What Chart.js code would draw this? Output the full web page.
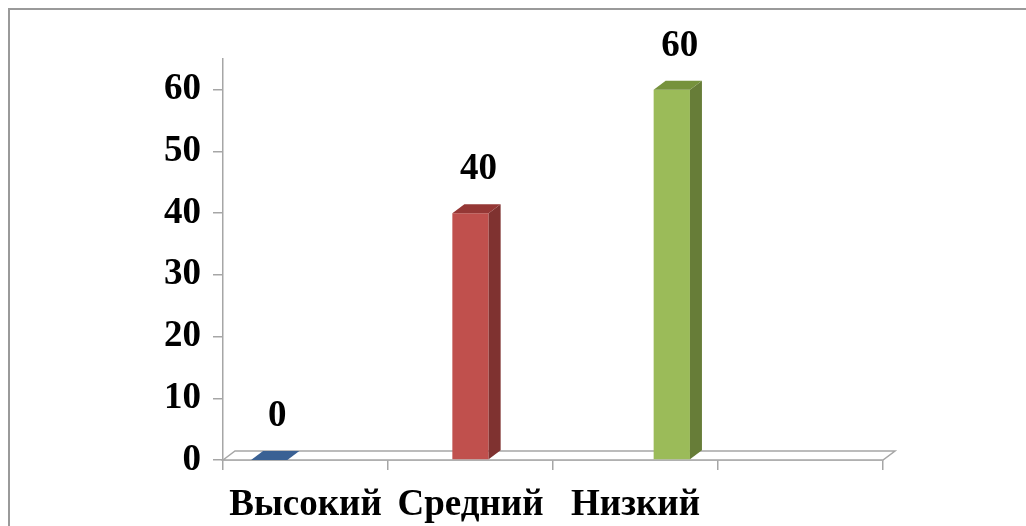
<!DOCTYPE html>
<html>
<head>
<meta charset="utf-8">
<script src="https://cdn.jsdelivr.net/npm/chart.js@4"></script>
<style>
    body { margin: 0; background: #fff; }
    canvas { display: block; }
</style>
</head>
<body>
<canvas id="grafica" width="1026" height="526"></canvas>
<script>
// Dades
const categories = ['Высокий', 'Средний', 'Низкий', ''];
const levelValues = [0, 40, 60];
const yTicks = [0, 10, 20, 30, 40, 50, 60];

const frontColors = ['#4F81BD', '#C0504D', '#9BBB59'];
const sideColors = ['#2F4D71', '#7F3230', '#677D38'];
const topColors = ['#3A6194', '#953735', '#76923C'];

const DX = 12, DY = 9; // profunditat 3D
const FONT = 'bold 37px "Liberation Serif", "Times New Roman", serif';

// cada nivell és una sèrie amb valor només a la seva categoria
const datasets = levelValues.map(function (v, i) {
    return {
        data: categories.map(function (c, j) { return j === i ? v : null; }),
        backgroundColor: frontColors[i],
        borderWidth: 0,
        barPercentage: 1.0,
        categoryPercentage: 0.66
    };
});

const frame3d = {
    id: 'frame3d',
    beforeDraw: function (chart) {
        const ctx = chart.ctx;
        ctx.save();
        ctx.strokeStyle = '#9a9a9a';
        ctx.lineWidth = 2;
        ctx.beginPath();
        ctx.moveTo(9, 526);
        ctx.lineTo(9, 9);
        ctx.lineTo(1026, 9);
        ctx.stroke();
        ctx.restore();
    },
    beforeDatasetsDraw: function (chart) {
        const ctx = chart.ctx;
        const a = chart.chartArea;
        const y0 = chart.scales.y.getPixelForValue(0);
        ctx.save();
        ctx.strokeStyle = '#a6a6a6';
        ctx.lineWidth = 1.5;
        ctx.fillStyle = '#ffffff';
        ctx.beginPath();
        ctx.moveTo(a.left, y0);
        ctx.lineTo(a.left + DX, y0 - DY);
        ctx.lineTo(a.right + DX, y0 - DY);
        ctx.lineTo(a.right, y0);
        ctx.closePath();
        ctx.fill();
        ctx.stroke();
        ctx.restore();
    },
    afterDatasetsDraw: function (chart) {
        const ctx = chart.ctx;
        ctx.save();
        chart.data.datasets.forEach(function (ds, i) {
            const meta = chart.getDatasetMeta(i);
            meta.data.forEach(function (bar, j) {
                if (ds.data[j] === null) return;
                const l = bar.x - bar.width / 2;
                const r = bar.x + bar.width / 2;
                const t = bar.y;
                const b = bar.base;
                // cara lateral
                if (b - t > 0) {
                    ctx.fillStyle = sideColors[i];
                    ctx.beginPath();
                    ctx.moveTo(r, t);
                    ctx.lineTo(r + DX, t - DY);
                    ctx.lineTo(r + DX, b - DY);
                    ctx.lineTo(r, b);
                    ctx.closePath();
                    ctx.fill();
                }
                // cara superior
                ctx.fillStyle = topColors[i];
                ctx.beginPath();
                ctx.moveTo(l, t);
                ctx.lineTo(l + DX, t - DY);
                ctx.lineTo(r + DX, t - DY);
                ctx.lineTo(r, t);
                ctx.closePath();
                ctx.fill();
                // etiqueta
                ctx.fillStyle = '#000';
                ctx.font = FONT;
                ctx.textAlign = 'center';
                ctx.textBaseline = 'alphabetic';
                ctx.fillText(String(ds.data[j]), bar.x + 8, t - 34);
            });
        });
        ctx.restore();
    }
};

const graph = document.querySelector('#grafica');

new Chart(graph, {
    type: 'bar',
    data: { labels: categories, datasets: datasets },
    options: {
        responsive: false,
        animation: false,
        layout: { padding: { left: 0, right: 143, top: 59, bottom: 0 } },
        plugins: { legend: { display: false }, tooltip: { enabled: false } },
        scales: {
            x: {
                grid: { drawOnChartArea: false, color: '#a6a6a6', tickLength: 10, lineWidth: 1.5 },
                border: { color: '#a6a6a6', width: 1.5 },
                ticks: { color: '#000', font: { family: '"Liberation Serif", serif', weight: 'bold', size: 37 }, padding: 13, maxRotation: 0 },
                afterFit: function (s) { s.height = 66; }
            },
            y: {
                min: 0,
                max: 65,
                afterBuildTicks: function (s) { s.ticks = yTicks.map(function (v) { return { value: v }; }); },
                grid: { drawOnChartArea: false, color: '#a6a6a6', tickLength: 10, lineWidth: 1.5 },
                border: { color: '#a6a6a6', width: 1.5 },
                ticks: { color: '#000', font: { family: '"Liberation Serif", serif', weight: 'bold', size: 37 }, padding: 12 },
                afterFit: function (s) { s.width = 223; }
            }
        }
    },
    plugins: [frame3d]
});
</script>
</body>
</html>
